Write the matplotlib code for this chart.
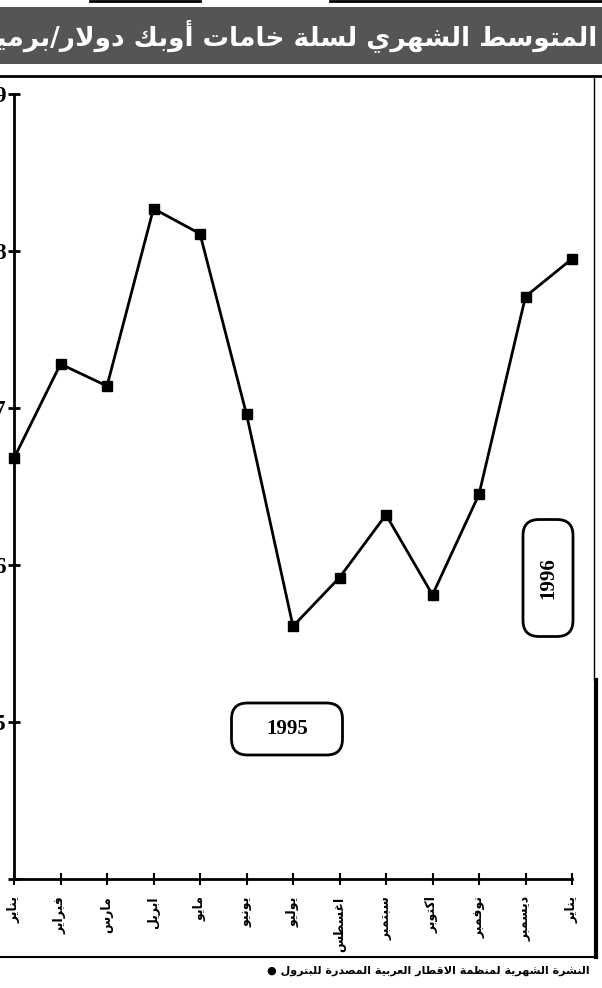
import matplotlib
matplotlib.use('Agg')
import matplotlib.pyplot as plt
from matplotlib.patches import FancyBboxPatch, Rectangle
from matplotlib.lines import Line2D

# ---------------- data ----------------
months = ['يناير', 'فبراير', 'مارس', 'ابريل', 'مايو', 'يونيو', 'يوليو',
          'اغسطس', 'سبتمبر', 'اكتوبر', 'نوفمبر', 'ديسمبر', 'يناير']
prices = [16.68, 17.28, 17.14, 18.27, 18.11, 16.96, 15.61,
          15.92, 16.32, 15.81, 16.45, 17.71, 17.95]
y_ticks = [14, 15, 16, 17, 18, 19]
y_labels = ['', '15', '16', '17', '18', '19']
title_text = 'المتوسط الشهري لسلة خامات أوبك دولار/برميل'
source_text = 'النشرة الشهرية لمنظمة الاقطار العربية المصدرة للبترول'
year_labels = ['1995', '1996']

# ------------- minimal Arabic shaping (presentation forms) -------------
_AR = {
    'ء': ('\uFE80', None, None, None),
    'آ': ('\uFE81', '\uFE82', None, None),
    'أ': ('\uFE83', '\uFE84', None, None),
    'ؤ': ('\uFE85', '\uFE86', None, None),
    'إ': ('\uFE87', '\uFE88', None, None),
    'ئ': ('\uFE89', '\uFE8A', '\uFE8B', '\uFE8C'),
    'ا': ('\uFE8D', '\uFE8E', None, None),
    'ب': ('\uFE8F', '\uFE90', '\uFE91', '\uFE92'),
    'ة': ('\uFE93', '\uFE94', None, None),
    'ت': ('\uFE95', '\uFE96', '\uFE97', '\uFE98'),
    'ث': ('\uFE99', '\uFE9A', '\uFE9B', '\uFE9C'),
    'ج': ('\uFE9D', '\uFE9E', '\uFE9F', '\uFEA0'),
    'ح': ('\uFEA1', '\uFEA2', '\uFEA3', '\uFEA4'),
    'خ': ('\uFEA5', '\uFEA6', '\uFEA7', '\uFEA8'),
    'د': ('\uFEA9', '\uFEAA', None, None),
    'ذ': ('\uFEAB', '\uFEAC', None, None),
    'ر': ('\uFEAD', '\uFEAE', None, None),
    'ز': ('\uFEAF', '\uFEB0', None, None),
    'س': ('\uFEB1', '\uFEB2', '\uFEB3', '\uFEB4'),
    'ش': ('\uFEB5', '\uFEB6', '\uFEB7', '\uFEB8'),
    'ص': ('\uFEB9', '\uFEBA', '\uFEBB', '\uFEBC'),
    'ض': ('\uFEBD', '\uFEBE', '\uFEBF', '\uFEC0'),
    'ط': ('\uFEC1', '\uFEC2', '\uFEC3', '\uFEC4'),
    'ظ': ('\uFEC5', '\uFEC6', '\uFEC7', '\uFEC8'),
    'ع': ('\uFEC9', '\uFECA', '\uFECB', '\uFECC'),
    'غ': ('\uFECD', '\uFECE', '\uFECF', '\uFED0'),
    'ف': ('\uFED1', '\uFED2', '\uFED3', '\uFED4'),
    'ق': ('\uFED5', '\uFED6', '\uFED7', '\uFED8'),
    'ك': ('\uFED9', '\uFEDA', '\uFEDB', '\uFEDC'),
    'ل': ('\uFEDD', '\uFEDE', '\uFEDF', '\uFEE0'),
    'م': ('\uFEE1', '\uFEE2', '\uFEE3', '\uFEE4'),
    'ن': ('\uFEE5', '\uFEE6', '\uFEE7', '\uFEE8'),
    'ه': ('\uFEE9', '\uFEEA', '\uFEEB', '\uFEEC'),
    'و': ('\uFEED', '\uFEEE', None, None),
    'ى': ('\uFEEF', '\uFEF0', None, None),
    'ي': ('\uFEF1', '\uFEF2', '\uFEF3', '\uFEF4'),
}
_LA = {'ا': ('\uFEFB', '\uFEFC'), 'أ': ('\uFEF7', '\uFEF8'),
       'إ': ('\uFEF9', '\uFEFA'), 'آ': ('\uFEF5', '\uFEF6')}


def _jn(c):
    return c in _AR and _AR[c][2] is not None


def _jp(c):
    return c in _AR and _AR[c][1] is not None


def shape(s):
    out = []
    i, n = 0, len(s)
    while i < n:
        c = s[i]
        if c not in _AR:
            out.append(c)
            i += 1
            continue
        prev = s[i - 1] if i > 0 else ''
        cp = _jn(prev) and _jp(c)
        if c == 'ل' and i + 1 < n and s[i + 1] in _LA:
            out.append(_LA[s[i + 1]][1 if cp else 0])
            i += 2
            continue
        nxt = s[i + 1] if i + 1 < n else ''
        cn = _jn(c) and _jp(nxt)
        iso, fin, ini, med = _AR[c]
        out.append(med if (cp and cn) else fin if cp else ini if cn else iso)
        i += 1
    return ''.join(reversed(out))


AR_FONT = ['DejaVu Sans']
W, H = 602, 988
fig = plt.figure(figsize=(W / 100, H / 100), dpi=100)
fig.patch.set_facecolor('white')


def fx(px):
    return px / W


def fy(py):
    return 1 - py / H


# ---------------- axes ----------------
ax_l, ax_r, ax_t, ax_b = 14, 572, 94, 879
ax = fig.add_axes([fx(ax_l), fy(ax_b), fx(ax_r - ax_l), fy(ax_t) - fy(ax_b)])
ax.set_facecolor('none')
x = list(range(len(months)))
ax.plot(x, prices, color='black', lw=2.0, marker='s', markersize=6.5,
        markerfacecolor='black', markeredgecolor='black', clip_on=False, zorder=5)
ax.set_xlim(0, len(months) - 1)
ax.set_ylim(14, 19)
for s in ['top', 'right']:
    ax.spines[s].set_visible(False)
for s in ['left', 'bottom']:
    ax.spines[s].set_linewidth(2.0)
ax.set_yticks(y_ticks)
ax.set_yticklabels(y_labels, fontsize=17, fontweight='bold',
                   family=['Liberation Serif'])
ax.tick_params(axis='y', direction='inout', length=9, width=2, pad=1)
ax.set_xticks(x)
ax.set_xticklabels([shape(m) for m in months], rotation=90, fontsize=9,
                   fontweight='bold', family=AR_FONT, va='top', ha='center')
ax.tick_params(axis='x', direction='inout', length=9, width=1.5, pad=8)

# ---------------- title band ----------------
fig.patches.append(Rectangle((0, fy(64)), 1, fy(7) - fy(64), transform=fig.transFigure,
                             facecolor='#555555', edgecolor='none', zorder=0))
fig.lines.append(Line2D([fx(90), fx(200)], [fy(1), fy(1)], color='black', lw=2,
                        transform=fig.transFigure))
fig.lines.append(Line2D([fx(330), fx(602)], [fy(1), fy(1)], color='black', lw=2,
                        transform=fig.transFigure))
fig.text(fx(597), fy(36), shape(title_text), color='white', fontsize=19,
         fontweight='bold', family=AR_FONT, ha='right', va='center')

# ---------------- frame ----------------
fig.lines.append(Line2D([0, 1], [fy(76), fy(76)], color='black', lw=2,
                        transform=fig.transFigure))
fig.lines.append(Line2D([0, fx(597)], [fy(957), fy(957)], color='black', lw=1.5,
                        transform=fig.transFigure))
fig.lines.append(Line2D([fx(594), fx(594)], [fy(76), fy(680)], color='black', lw=1,
                        transform=fig.transFigure))
fig.lines.append(Line2D([fx(596), fx(596)], [fy(680), fy(957)], color='black', lw=3,
                        transform=fig.transFigure))

# ---------------- year boxes ----------------
def rbox(cx, cy, w, h, label, rot):
    x0 = (cx - w / 2) / 100
    y0 = (H - cy - h / 2) / 100
    r = 0.16
    p = FancyBboxPatch((x0 + r, y0 + r), w / 100 - 2 * r, h / 100 - 2 * r,
                       boxstyle='round,pad=%f,rounding_size=%f' % (r, r),
                       transform=fig.dpi_scale_trans, facecolor='white',
                       edgecolor='black', lw=2.0, zorder=10)
    fig.patches.append(p)
    fig.text(fx(cx), fy(cy), label, rotation=rot, ha='center', va='center',
             fontsize=15, fontweight='bold', family=['Liberation Serif'], zorder=11)


rbox(287, 729, 111, 52, year_labels[0], 0)
rbox(548, 578, 50, 117, year_labels[1], 90)

# ---------------- source ----------------
fig.text(fx(590), fy(971), '\u25CF ' + shape(source_text), ha='right', va='center',
         fontsize=8, fontweight='bold', family=AR_FONT)

fig.savefig('out.png', dpi=100)
